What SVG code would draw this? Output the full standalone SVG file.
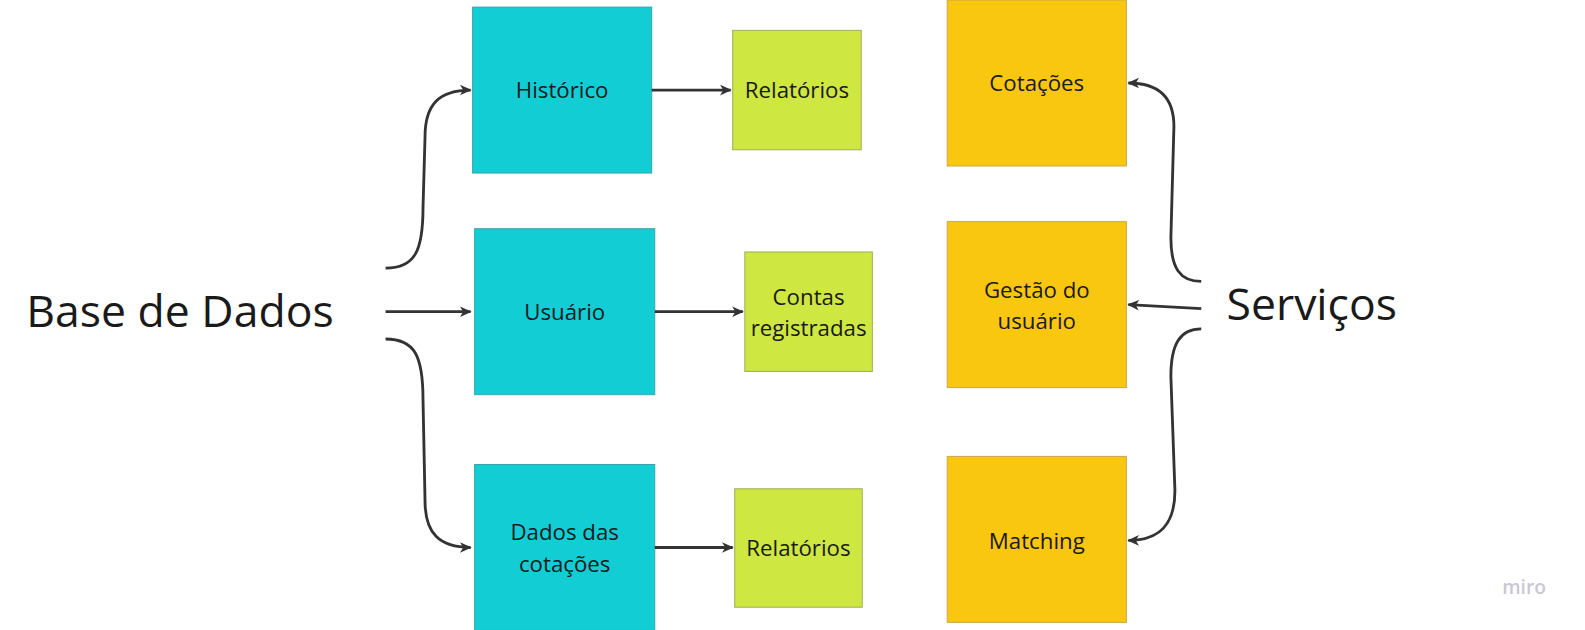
<svg xmlns="http://www.w3.org/2000/svg" width="1585" height="630" viewBox="0 0 1585 630">
<style>
  .teal { fill: #12CDD4; stroke: #3aa6a8; stroke-width: 1; }
  .lime { fill: #CEE741; stroke: #9fae5a; stroke-width: 1; }
  .yellow { fill: #FAC710; stroke: #c9a84a; stroke-width: 1; }
  .lbl { font-family: "Open Sans", "Noto Sans", sans-serif; font-size: 22px; fill: #1a1a1a; text-anchor: middle; }
  .big { font-family: "Open Sans", "Noto Sans", sans-serif; font-size: 44px; fill: #1a1a1a; }
  .conn { fill: none; stroke: #333333; stroke-width: 2.8; marker-end: url(#arr); }
</style>
<defs>
  <marker id="arr" viewBox="0 0 12 12" refX="10" refY="6" markerWidth="4.5" markerHeight="4.5" orient="auto" markerUnits="strokeWidth">
    <path d="M0,1 L11,6 L0,11 L3,6 Z" fill="#333333"/>
  </marker>
</defs>
<rect width="1585" height="630" fill="#ffffff"/>
<g transform="scale(1.012)">
<text class="big" x="26" y="323">Base de Dados</text>
<text class="big" x="1212" y="316">Serviços</text>

<g id="historico"><rect class="teal" x="467" y="7" width="177" height="164"/><text class="lbl" x="555.5" y="97">Histórico</text></g>
<g id="relatorios1"><rect class="lime" x="724" y="30" width="127" height="118"/><text class="lbl" x="787.5" y="97">Relatórios</text></g>
<g id="usuario"><rect class="teal" x="469" y="226" width="178" height="164"/><text class="lbl" x="558" y="316">Usuário</text></g>
<g id="contas"><rect class="lime" x="736" y="249" width="126" height="118"/><text class="lbl" x="799" y="301">Contas</text><text class="lbl" x="799" y="332">registradas</text></g>
<g id="dados"><rect class="teal" x="469" y="459" width="178" height="164"/><text class="lbl" x="558" y="534">Dados das</text><text class="lbl" x="558" y="565">cotações</text></g>
<g id="relatorios2"><rect class="lime" x="726" y="483" width="126" height="117"/><text class="lbl" x="789" y="549">Relatórios</text></g>
<g id="cotacoes"><rect class="yellow" x="936" y="0" width="177" height="164"/><text class="lbl" x="1024.5" y="90">Cotações</text></g>
<g id="gestao"><rect class="yellow" x="936" y="219" width="177" height="164"/><text class="lbl" x="1024.5" y="294">Gestão do</text><text class="lbl" x="1024.5" y="325">usuário</text></g>
<g id="matching"><rect class="yellow" x="936" y="451" width="177" height="164"/><text class="lbl" x="1024.5" y="542">Matching</text></g>

<g id="connectors">
  <path class="conn" d="M381,265 C410,265 418,248 418,205 L420,135 C420,103 434,89 465,89"/>
  <path class="conn" d="M381,308 L465,308"/>
  <path class="conn" d="M381,335 C410,335 418,352 418,395 L420,495 C420,527 434,541 465,541"/>
  <path class="conn" d="M644,89 L722,89"/>
  <path class="conn" d="M647,308 L734,308"/>
  <path class="conn" d="M647,541 L724,541"/>
  <path class="conn" d="M1187,278 C1166,278 1157,265 1157,235 L1160,125 C1160,97 1146,82 1115,82"/>
  <path class="conn" d="M1187,305 L1115,301"/>
  <path class="conn" d="M1187,325 C1166,325 1157,340 1157,372 L1161,485 C1161,518 1146,534 1115,534"/>
</g>

<text x="1506" y="587" font-family="Open Sans, Noto Sans, sans-serif" font-size="19" font-weight="600" fill="#c8c8d4" text-anchor="middle">miro</text>
</g>
</svg>
